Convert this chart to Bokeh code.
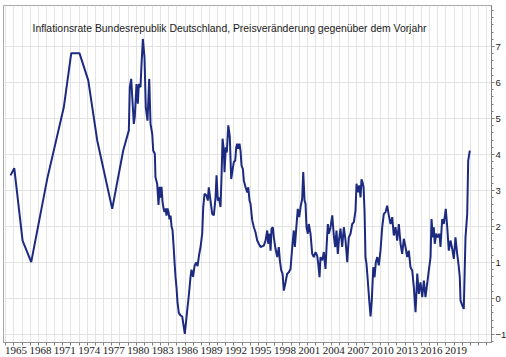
from bokeh.plotting import figure
from bokeh.models import FixedTicker, Range1d, Label
from bokeh.embed import file_html
from bokeh.resources import INLINE

title_text = "Inflationsrate Bundesrepublik Deutschland, Preisveränderung gegenüber dem Vorjahr"

label_years = [1965, 1968, 1971, 1974, 1977, 1980, 1983, 1986, 1989, 1992,
               1995, 1998, 2001, 2004, 2007, 2010, 2013, 2016, 2019]
y_ticks = [-1, 0, 1, 2, 3, 4, 5, 6, 7]

years = [
    1965.58, 1966.04, 1967.06, 1968.12, 1970.09, 1972.12, 1973.03, 1974.05, 1975.12, 1976.22,
    1978.06, 1979.41, 1980.10, 1980.22, 1980.39, 1980.52, 1980.71, 1980.83, 1981.04, 1981.20,
    1981.33, 1981.53, 1981.66, 1981.82, 1982.02, 1982.18, 1982.39, 1982.60, 1982.76, 1982.97,
    1983.09, 1983.29, 1983.37, 1983.58, 1983.74, 1983.87, 1983.99, 1984.11, 1984.23, 1984.36,
    1984.48, 1984.60, 1984.72, 1984.85, 1984.97, 1985.09, 1985.22, 1985.34, 1985.46, 1985.58,
    1985.71, 1985.83, 1985.95, 1986.07, 1986.23, 1986.44, 1986.65, 1986.97, 1987.26, 1987.42,
    1987.55, 1987.67, 1987.79, 1987.98, 1988.16, 1988.34, 1988.53, 1988.71, 1988.90, 1989.10,
    1989.23, 1989.39, 1989.63, 1989.79, 1989.91, 1990.12, 1990.33, 1990.53, 1990.74, 1990.86,
    1991.02, 1991.14, 1991.35, 1991.47, 1991.60, 1991.76, 1991.84, 1992.00, 1992.12, 1992.30,
    1992.42, 1992.49, 1992.66, 1992.79, 1992.98, 1993.15, 1993.28, 1993.40, 1993.52, 1993.68,
    1993.80, 1993.93, 1994.09, 1994.21, 1994.42, 1994.63, 1994.75, 1994.91, 1995.03, 1995.24,
    1995.44, 1995.64, 1995.85, 1996.05, 1996.26, 1996.66, 1996.87, 1997.08, 1997.20, 1997.36,
    1997.49, 1997.61, 1997.77, 1997.89, 1998.10, 1998.31, 1998.50, 1998.63, 1998.80, 1998.96,
    1999.12, 1999.33, 1999.53, 1999.73, 1999.94, 2000.15, 2000.34, 2000.47, 2000.64, 2000.83,
    2001.01, 2001.17, 2001.37, 2001.50, 2001.66, 2001.78, 2001.90, 2002.06, 2002.18, 2002.39,
    2002.60, 2002.80, 2003.01, 2003.21, 2003.34, 2003.50, 2003.62, 2003.83, 2004.03, 2004.23,
    2004.36, 2004.52, 2004.64, 2004.85, 2005.06, 2005.25, 2005.42, 2005.58, 2005.74, 2005.87,
    2006.07, 2006.28, 2006.48, 2006.69, 2006.90, 2007.09, 2007.30, 2007.51, 2007.71, 2007.91,
    2008.04, 2008.20, 2008.37, 2008.53, 2008.65, 2008.77, 2008.90, 2009.02, 2009.14, 2009.26,
    2009.42, 2009.60, 2009.76, 2009.91, 2010.09, 2010.25, 2010.41, 2010.58, 2010.77, 2010.98,
    2011.19, 2011.39, 2011.60, 2011.80, 2012.00, 2012.21, 2012.42, 2012.61, 2012.82, 2013.03,
    2013.23, 2013.44, 2013.64, 2013.84, 2014.05, 2014.26, 2014.45, 2014.66, 2014.87, 2015.07,
    2015.28, 2015.49, 2015.68, 2015.89, 2016.10, 2016.30, 2016.50, 2016.71, 2016.91, 2017.12,
    2017.24, 2017.40, 2017.52, 2017.64, 2017.82, 2018.01, 2018.22, 2018.34, 2018.55, 2018.75,
    2018.99, 2019.17, 2019.36, 2019.57, 2019.78, 2019.98, 2020.18, 2020.39, 2020.59, 2020.71,
    2020.80, 2021.01, 2021.20, 2021.41, 2021.62, 2021.74, 2021.94,
]

inflation = [
    3.42, 3.62, 1.61, 1.01, 3.33, 5.31, 6.81, 6.81, 6.06, 4.39,
    2.49, 4.11, 4.67, 5.87, 6.10, 5.59, 4.85, 5.05, 5.96, 5.41,
    5.96, 5.87, 6.52, 7.21, 6.70, 5.31, 4.94, 6.10, 4.85, 4.57,
    4.11, 4.02, 3.37, 3.18, 2.60, 3.10, 2.80, 3.10, 2.70, 2.50,
    2.40, 2.50, 2.30, 2.50, 2.40, 2.20, 2.30, 2.00, 1.90, 1.50,
    1.00, 0.60, 0.30, -0.10, -0.40, -0.47, -0.50, -0.98, -0.33, 0.00,
    0.30, 0.60, 0.80, 0.60, 0.90, 1.00, 0.90, 1.20, 1.43, 1.80,
    2.54, 2.91, 2.86, 2.72, 3.09, 2.72, 2.35, 2.31, 2.81, 3.42,
    2.72, 2.81, 2.54, 3.37, 4.44, 4.11, 3.51, 4.20, 4.06, 4.81,
    4.62, 4.48, 3.32, 3.51, 3.79, 3.83, 4.20, 4.30, 4.16, 4.30,
    4.11, 3.69, 3.60, 3.28, 3.09, 2.95, 3.09, 2.72, 2.63, 2.17,
    1.98, 1.84, 1.61, 1.52, 1.43, 1.47, 1.61, 1.89, 1.52, 1.80,
    1.33, 1.94, 1.98, 1.70, 1.38, 1.15, 1.43, 1.06, 0.78, 0.69,
    0.22, 0.45, 0.69, 0.73, 0.82, 1.43, 1.89, 1.43, 1.94, 2.49,
    2.26, 2.54, 2.77, 3.51, 2.72, 2.63, 1.98, 1.80, 2.07, 1.80,
    1.24, 1.15, 1.29, 1.19, 0.96, 0.59, 1.15, 1.06, 1.29, 0.82,
    1.43, 2.07, 1.80, 1.98, 2.31, 1.75, 1.43, 1.89, 1.24, 1.61,
    1.94, 1.43, 1.98, 1.61, 1.01, 1.70, 1.80, 2.07, 2.12, 2.44,
    3.19, 2.95, 3.14, 2.81, 3.31, 3.23, 3.09, 2.44, 1.15, 0.96,
    0.50, -0.06, -0.50, -0.06, 0.87, 0.59, 1.01, 1.15, 0.92, 1.33,
    1.98, 2.35, 2.40, 2.58, 2.31, 2.07, 2.26, 1.75, 1.98, 1.61,
    2.07, 1.52, 1.24, 1.66, 1.43, 1.15, 1.33, 0.87, 0.78, 0.31,
    -0.38, 0.69, 0.13, 0.45, 0.04, 0.50, 0.04, 0.41, 0.78, 1.15,
    2.21, 1.70, 1.98, 1.52, 1.80, 1.70, 1.80, 1.43, 2.21, 2.07,
    2.49, 1.98, 1.33, 1.61, 1.38, 1.10, 1.70, 1.24, 0.87, 0.59,
    -0.06, -0.19, -0.29, 1.70, 2.35, 3.83, 4.11,
]

LABEL_SHIFT = 1.25  # labels sit to the right of their year tick

p = figure(
    frame_width=488, frame_height=337,
    x_range=Range1d(1964.72, 2024.60), y_range=Range1d(-1.222, 8.139),
    y_axis_location="right",
    output_backend="svg", toolbar_location=None,
    min_border_left=3, min_border_top=5, min_border_right=0, min_border_bottom=0,
    background_fill_color="white", border_fill_color="white",
    outline_line_color="#a8a8a8",
)

# x axis
label_ticks = [yr + LABEL_SHIFT for yr in label_years]
p.xaxis.ticker = FixedTicker(ticks=label_ticks, minor_ticks=list(range(1965, 2025)))
p.xaxis.major_label_overrides = {t: str(yr) for t, yr in zip(label_ticks, label_years)}
p.xaxis.major_tick_out = 0
p.xaxis.major_tick_in = 0
p.xaxis.minor_tick_out = 3
p.xaxis.minor_tick_in = 0
p.xaxis.minor_tick_line_color = "#808080"
p.xaxis.axis_line_color = "#909090"
p.xaxis.major_label_standoff = 1
p.xaxis.major_label_text_font = "Liberation Sans Narrow"
p.xaxis.major_label_text_font_size = "11px"
p.xaxis.major_label_text_color = "#1a1a1a"

# y axis (right)
p.yaxis.ticker = FixedTicker(ticks=y_ticks,
                             minor_ticks=[round(-1.2 + 0.2 * i, 1) for i in range(47)])
p.yaxis.major_tick_out = 3
p.yaxis.major_tick_in = 0
p.yaxis.minor_tick_out = 2
p.yaxis.minor_tick_in = 0
p.yaxis.major_tick_line_color = "#808080"
p.yaxis.minor_tick_line_color = "#808080"
p.yaxis.axis_line_color = "#808080"
p.yaxis.major_label_standoff = 1
p.yaxis.major_label_text_font = "Liberation Sans"
p.yaxis.major_label_text_font_size = "9.5px"
p.yaxis.major_label_text_color = "#1a1a1a"

# grids
p.xgrid.ticker = FixedTicker(ticks=list(range(1965, 2025)))
p.ygrid.ticker = FixedTicker(ticks=y_ticks)
p.xgrid.grid_line_color = "#e4e4e4"
p.ygrid.grid_line_color = "#e4e4e4"
p.xgrid.grid_line_width = 1
p.ygrid.grid_line_width = 1

p.line(years, inflation, line_color="#1c2a80", line_width=2)

p.add_layout(Label(x=1968.28, y=7.49, text=title_text,
                   text_font="Liberation Sans", text_font_size="10.4px",
                   text_color="#1a1a1a", text_align="left", text_baseline="alphabetic"))

open("out.html", "w").write(file_html(p, INLINE))
